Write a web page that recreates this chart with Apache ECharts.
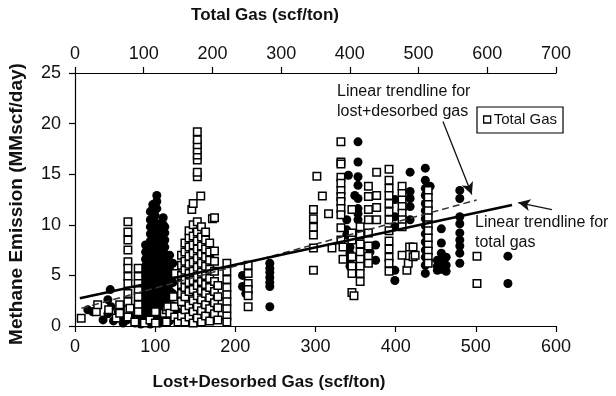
<!DOCTYPE html>
<html><head><meta charset="utf-8">
<script src="https://cdn.jsdelivr.net/npm/echarts@6/dist/echarts.min.js"></script>
<style>html,body{margin:0;padding:0;background:#fff}#c{width:616px;height:396px}</style>
</head><body><div id="c"></div>
<script>
// Lost+desorbed gas (bottom axis, scf/ton) vs methane emission (MMscf/day): [x, [y...]]
const lostDesorbedCols = [
  [16,[1.6]],[22,[1.4]],[35,[0.6]],[41,[2.6,1.2]],[44,[3.6]],[45,[1.9]],[48,[0.5]],
  [54,[1.4]],[55,[0.9]],[60,[0.3]],[65,[1.5,0.6]],[70,[0.9]],[75,[0.3,1.7]],[80,[1.1]],
  [82,[0.2,0.7,1.3,2.0,2.6,3.3,4.0,4.8,5.5]],
  [88,[0.4,1.0,1.6,2.3,3.0,3.7,4.4,5.1,5.9,6.6,7.3,8.0]],
  [94,[0.2,0.8,1.5,2.1,2.8,3.5,4.2,4.9,5.6,6.3,7.0,7.7,8.4,9.1,9.8,10.5,11.3]],
  [97,[11.6,12.0]],
  [100,[0.5,1.1,1.8,2.5,3.2,3.9,4.6,5.3,6.0,6.7,7.4,8.1,8.8,9.5,10.2,10.9]],
  [102,[11.6,12.3,12.9]],
  [106,[0.3,1.0,1.7,2.4,3.1,3.8,4.5,5.2,5.9,6.6,7.3,8.0,8.7,9.4,10.1]],
  [110,[10.0,10.7]],
  [112,[0.8,1.5,2.2,2.9,3.6,4.3,5.0,5.7,6.4,7.1,7.8,8.5,9.2,9.8]],
  [118,[0.5,1.8,2.8,3.5,4.2,5.0,5.6,6.3,7.0]],
  [122,[2.0,3.2,4.3,5.2,6.2]],
  [128,[0.6,1.4]],[172,[1.9]],[175,[1.5]],[209,[5.0,3.9]],[213,[3.2]],
  [243,[6.2,5.7,5.3,4.8,4.3,3.9,1.9]],
  [339,[10.5,9.5,9.0]],[341,[14.9]],[343,[7.8,7.2,6.5,5.9]],[349,[12.9]],
  [353,[18.2,16.2,14.75,13.9,12.6,11.6,11.1,10.5,9.0]],
  [368,[7.3]],[375,[8.0,6.5]],[399,[12.5,10.8,9.8,5.5,4.5]],
  [418,[15.2,13.3,12.6,11.8,10.5]],
  [437,[15.6,14.4,13.6,12.9,12.1,11.4,10.6,9.9,9.1,8.3,7.5,6.8,6.0,5.2]],
  [443,[13.8]],[452,[6.5,5.9,5.5]],[457,[9.6,8.2,7.2,6.4,5.6]],[463,[6.8,6.0,5.4]],
  [480,[13.4,12.6,10.8,10.1,9.2,8.5,7.9,7.2,6.2]],
  [540,[6.9,4.2]]
];
// Total gas (top axis, scf/ton) vs methane emission: [x, [y...]]
const totalGasCols = [
  [9,[0.76]],[31,[1.4]],[33,[2.1]],[49,[1.6]],[60,[0.8]],[65,[1.25,2.1]],
  [77,[10.3,9.3,8.5,7.5,6.35,5.7,4.9,4.2,3.2,2.4,1.6,0.9]],
  [80,[1.75]],[87,[0.4]],
  [92,[5.7,4.9,4.2,3.5,2.9,2.1,1.4]],
  [101,[0.3]],[109,[0.6]],[117,[0.3,1.4]],[130,[1.25]],[133,[0.4,1.6]],[135,[1.9]],
  [138,[1.25]],[143,[2.9]],[145,[1.9,0.9]],[146,[5.2]],[150,[0.4]],
  [155,[1.0,2.4,3.2,4.1,5.0,6.0,7.0]],
  [160,[0.4,1.6,2.9,3.8,4.6,5.5,6.4,7.3,8.2]],
  [166,[0.9,2.0,3.4,4.3,5.2,6.1,6.9,7.8,8.7,9.4]],
  [170,[11.5]],
  [172,[0.3,1.4,2.5,3.6,4.5,5.4,6.3,7.2,8.0,8.9,10.0,12.1]],
  [178,[0.8,1.9,3.0,4.0,4.9,5.8,6.7,7.6,8.4,9.3,10.3,14.75,15.2,16.4,16.9,17.4,17.9,18.4,19.2]],
  [183,[12.85]],
  [184,[0.4,1.5,2.6,3.5,4.4,5.3,6.2,7.1,7.9,8.8,9.8]],
  [190,[1.0,2.1,3.2,4.1,5.0,5.9,6.8,7.6,8.5,9.3]],
  [196,[0.5,1.7,2.8,3.8,4.7,5.6,6.5,7.3,8.2]],
  [200,[10.6]],
  [203,[1.2,2.3,3.4,4.4,5.4,6.4,7.4,10.7]],
  [208,[0.6,1.8,2.9,4.0]],
  [221,[6.2,5.4,4.6,3.8,3.1,2.4,1.7,1.0,0.4]],
  [252,[6.0,5.2,4.2,3.6,3.0,1.9]],
  [347,[11.5,10.6,9.75,9.0,7.7,5.5]],[352,[14.8]],[360,[12.85]],[369,[11.1]],[374,[7.7]],
  [387,[18.2,16.2,16.0,14.7,14.1,13.4,12.8,12.3,11.6,11.0,9.7,8.5]],
  [390,[7.8,6.6]],
  [403,[11.5,9.2,8.5,6.85,5.9,5.2,3.3]],[406,[3.0]],
  [415,[9.8,9.0,8.1,7.3,6.6,5.9,5.2,4.4]],
  [427,[13.8,12.8,11.5,10.5,9.2,7.9,6.9,6.2]],
  [439,[15.2,12.9,11.7,10.5]],
  [457,[15.5,14.4,13.6,12.9,12.1,11.3,10.5,9.4,8.4,7.6,6.8,6.2,5.4]],
  [476,[13.8,13.1,12.45,11.8,11.15,10.5,9.8,7.0]],
  [483,[5.5]],[485,[6.2]],[487,[7.8]],[492,[7.8,6.85]],[495,[7.0]],
  [514,[13.4,12.7,12.0,11.4,10.7,10.0,9.4,8.7,8.0,7.4,6.8,6.2]],
  [585,[6.9,4.2]]
];
// Linear trendlines (endpoints)
const trendLostDesorbed = [[8,1.75],[501,12.45]];   // bottom axis
const trendTotalGas = [[7,2.74],[636,11.96]];       // top axis
// Annotation arrows (start -> tip)
const arrowLostDesorbed = [[459,20.2],[495,13.0]];  // bottom axis units
const arrowTotalGas = [[694,11.5],[645,12.2]];      // top axis units

const toPairs = cols => cols.flatMap(([x, ys]) => ys.map(y => [x, y]));
const FONT = 'Liberation Sans, Arial, Helvetica, sans-serif';

const chart = echarts.init(document.getElementById('c'), null, {renderer: 'canvas'});
const axisCommon = {
  type: 'value', interval: 100,
  axisLine: {show: true, lineStyle: {color: '#000', width: 1.2}},
  axisTick: {show: true, inside: false, length: 6, lineStyle: {color: '#000', width: 1.2}},
  axisLabel: {color: '#111', fontSize: 18, fontFamily: FONT},
  splitLine: {show: false}
};
const arrowLine = pts => [[
  {coord: pts[0], symbol: 'none', symbolSize: 0},
  {coord: pts[1], symbol: 'arrow', symbolSize: [9, 12]}
]];
chart.setOption({
  animation: false,
  backgroundColor: '#fff',
  grid: {left: 75, right: 60, top: 73, bottom: 70},
  xAxis: [
    Object.assign({}, axisCommon, {position: 'bottom', min: 0, max: 600,
      axisLabel: Object.assign({}, axisCommon.axisLabel, {margin: 12})}),
    Object.assign({}, axisCommon, {position: 'top', min: 0, max: 700,
      axisLabel: Object.assign({}, axisCommon.axisLabel, {margin: 10})})
  ],
  yAxis: Object.assign({}, axisCommon, {min: 0, max: 25, interval: 5,
    axisLabel: Object.assign({}, axisCommon.axisLabel, {margin: 14})}),
  legend: {
    left: 477, top: 107, orient: 'horizontal',
    borderColor: '#000', borderWidth: 1.2, padding: [5, 6, 6, 6],
    itemWidth: 7, itemHeight: 7, itemGap: 5,
    textStyle: {fontSize: 15, color: '#111', fontFamily: FONT, padding: [0,0,0,-2]},
    data: [{name: 'Total Gas', icon: 'rect',
      itemStyle: {color: '#fff', borderColor: '#000', borderWidth: 1.3, opacity: 1}}]
  },
  graphic: [
    {type: 'text', style: {text: 'Total Gas (scf/ton)', x: 265, y: 15,
      align: 'center', verticalAlign: 'middle', font: 'bold 17px ' + FONT, fill: '#111'}},
    {type: 'text', style: {text: 'Lost+Desorbed Gas (scf/ton)', x: 269, y: 382,
      align: 'center', verticalAlign: 'middle', font: 'bold 17px ' + FONT, fill: '#111'}},
    {type: 'text', x: 17, y: 204, rotation: Math.PI / 2, style: {text: 'Methane Emission (MMscf/day)',
      x: 0, y: 0, align: 'center', verticalAlign: 'middle', font: 'bold 19px ' + FONT, fill: '#111'}},
    {type: 'text', style: {text: 'Linear trendline for\nlost+desorbed gas', x: 337, y: 82,
      font: '16px ' + FONT, lineHeight: 20, fill: '#111'}},
    {type: 'text', style: {text: 'Linear trendline for\ntotal gas', x: 475, y: 213,
      font: '16px ' + FONT, lineHeight: 20, fill: '#111'}}
  ],
  series: [
    {name: 'Lost+Desorbed Gas', type: 'scatter', xAxisIndex: 0, yAxisIndex: 0,
      symbol: 'circle', symbolSize: 9, itemStyle: {color: '#000', opacity: 1}, z: 2,
      data: toPairs(lostDesorbedCols)},
    {name: 'Total Gas', type: 'scatter', xAxisIndex: 1, yAxisIndex: 0,
      symbol: 'rect', symbolSize: 7.5, z: 3,
      itemStyle: {color: '#fff', borderColor: '#000', borderWidth: 1.5, opacity: 1},
      data: toPairs(totalGasCols)},
    {name: 'trend LD', type: 'line', xAxisIndex: 0, yAxisIndex: 0, z: 4,
      showSymbol: false, lineStyle: {color: '#333', width: 1.5, type: [7, 4]},
      data: trendLostDesorbed,
      markLine: {silent: true, symbol: ['none', 'arrow'], symbolSize: [0, 12],
        lineStyle: {color: '#111', width: 1.3, type: 'solid'}, label: {show: false},
        itemStyle: {color: '#111'},
        data: arrowLine(arrowLostDesorbed)}},
    {name: 'trend TG', type: 'line', xAxisIndex: 1, yAxisIndex: 0, z: 4,
      showSymbol: false, lineStyle: {color: '#000', width: 2.6},
      data: trendTotalGas,
      markLine: {silent: true, symbol: ['none', 'arrow'], symbolSize: [0, 12],
        lineStyle: {color: '#111', width: 1.3, type: 'solid'}, label: {show: false},
        itemStyle: {color: '#111'},
        data: arrowLine(arrowTotalGas)}}
  ]
});
</script></body></html>
